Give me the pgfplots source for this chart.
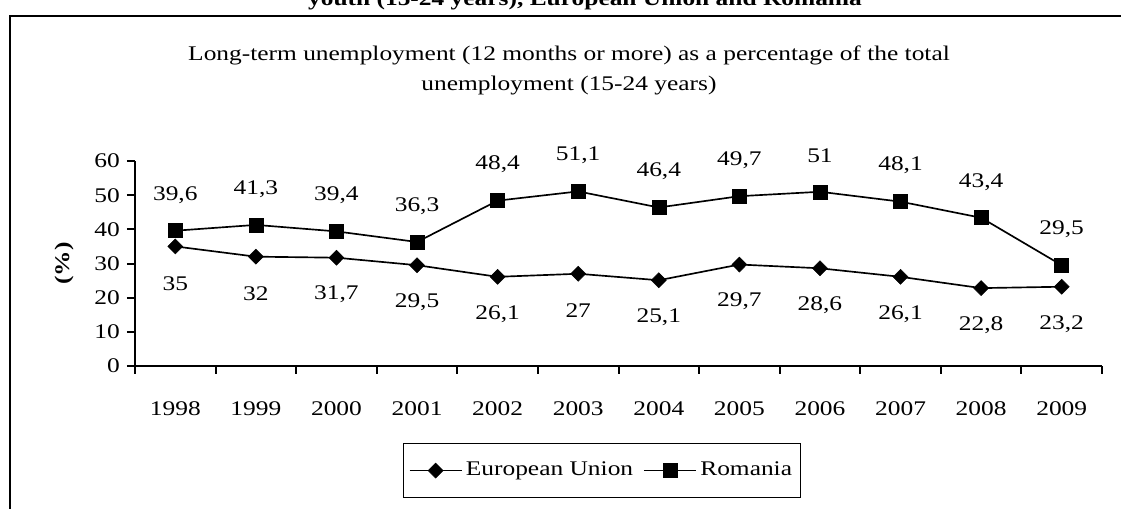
\documentclass[border=0pt]{standalone}
\usepackage{fontspec}
\setmainfont[FakeStretch=1.22]{Liberation Serif}
\usepackage{pgfplots}
\pgfplotsset{compat=1.18}
\begin{document}
\fontsize{12.5}{14}\selectfont
\begin{tikzpicture}[x=0.6pt,y=0.6pt]
\useasboundingbox (0,0) rectangle (1121,509);
% outer frame, cut on the right and bottom
\draw[line width=1.2pt] (10,0) -- (10,492.5) -- (1121,492.5);
\node[font=\bfseries, anchor=base] at (585,503) {youth (15-24 years), European Union and Romania};
\node[align=center, font=\fontsize{12.5}{18}\selectfont] at (569,439)
  {Long-term unemployment (12 months or more) as a percentage of the total\\unemployment (15-24 years)};
\begin{axis}[
    at={(81pt,85.8pt)}, anchor=south west,
    scale only axis, width=580.2pt, height=123pt,
    xmin=0, xmax=12, ymin=0, ymax=60,
    axis x line*=bottom, axis y line*=left,
    axis line style={line width=1.2pt, -},
    xtick={0.5,1.5,...,11.5},
    xticklabels={1998,1999,2000,2001,2002,2003,2004,2005,2006,2007,2008,2009},
    major x tick style={draw=none},
    minor xtick={0,1,...,12},
    ytick={0,10,...,60},
    tick align=outside,
    major tick length=4.8pt, minor tick length=4.8pt,
    every tick/.style={line width=1.2pt, black},
    /pgf/number format/assume math mode=true,
    xticklabel style={yshift=-12pt},
    ylabel={\textbf{(\%)}},
    ylabel style={at={(axis description cs:-0.0734,0.5)}, anchor=center},
    legend style={at={(0.483,-0.51)}, anchor=center, draw=black, line width=0.9pt,
        inner xsep=3pt, inner ysep=9pt,
        /tikz/every even column/.append style={column sep=4pt}},
    legend columns=2,
    legend image code/.code={\draw[mark repeat=2,mark phase=2] plot coordinates {(0cm,0cm)(0.55cm,0cm)(1.1cm,0cm)};},
  ]
  \addplot[black, line width=1pt, mark=diamond*,
      mark options={xscale=1.33, line width=0.3pt}, mark size=4.5pt,
      nodes near coords, point meta=explicit symbolic,
      every node near coord/.append style={anchor=center, yshift=-22.2pt}]
    coordinates {
      (0.5,35)[35] (1.5,32)[32] (2.5,31.7)[31,7] (3.5,29.5)[29,5]
      (4.5,26.1)[26,1] (5.5,27)[27] (6.5,25.1)[25,1] (7.5,29.7)[29,7]
      (8.5,28.6)[28,6] (9.5,26.1)[26,1] (10.5,22.8)[22,8] (11.5,23.2)[23,2]
    };
  \addplot[black, line width=1pt, mark=square*,
      mark options={line width=0.3pt}, mark size=4.2pt,
      nodes near coords, point meta=explicit symbolic,
      every node near coord/.append style={anchor=center, yshift=21.6pt}]
    coordinates {
      (0.5,39.6)[39,6] (1.5,41.3)[41,3] (2.5,39.4)[39,4] (3.5,36.3)[36,3]
      (4.5,48.4)[48,4] (5.5,51.1)[51,1] (6.5,46.4)[46,4] (7.5,49.7)[49,7]
      (8.5,51)[51] (9.5,48.1)[48,1] (10.5,43.4)[43,4] (11.5,29.5)[29,5]
    };
  \legend{European Union, Romania}
\end{axis}
\end{tikzpicture}
\end{document}
